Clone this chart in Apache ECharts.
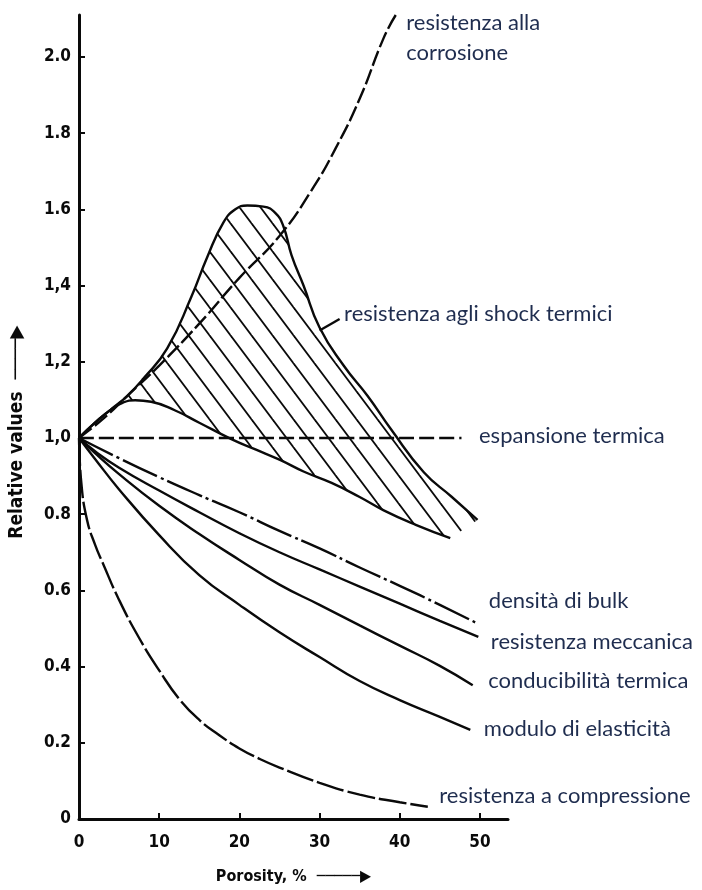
<!DOCTYPE html>
<html>
<head>
<meta charset="utf-8">
<title>Relative values vs porosity</title>
<script src="https://cdn.jsdelivr.net/npm/echarts@6.0.0/dist/echarts.min.js"></script>
<style>
    html, body { margin: 0; padding: 0; background: #ffffff; }
    #chart { width: 702px; height: 890px; }
</style>
</head>
<body>
<div id="chart"></div>
<script>
// values (porosity % -> relative value)
const xTicks = [0, 10, 20, 30, 40, 50]
const yTicks = [0, 0.2, 0.4, 0.6, 0.8, 1.0, 1.2, 1.4, 1.6, 1.8, 2.0]
const yTickLabels = ["0", "0.2", "0.4", "0.6", "0.8", "1,0", "1,2", "1,4", "1.6", "1.8", "2.0"]

const corrosionX = [0, 3, 6, 10, 15, 20, 25, 29, 32, 35, 38, 39.5]
const corrosionY = [1.0, 1.05, 1.11, 1.19, 1.30, 1.42, 1.53, 1.65, 1.76, 1.89, 2.05, 2.11]

const shockUpperX = [0, 2, 4, 6, 8, 11, 14, 16, 18, 19.5, 21, 23, 24.5, 25.5, 26.5, 28, 30, 33, 36, 39, 43, 46.5, 49.7]
const shockUpperY = [1.0, 1.04, 1.075, 1.11, 1.155, 1.235, 1.37, 1.475, 1.565, 1.60, 1.61, 1.607, 1.59, 1.555, 1.48, 1.40, 1.29, 1.19, 1.11, 1.02, 0.91, 0.845, 0.785]

const shockLowerX = [0, 2, 4, 5.5, 7, 9, 12, 15, 19, 22, 25, 28, 31.5, 35, 38, 42, 46.3]
const shockLowerY = [1.0, 1.04, 1.075, 1.093, 1.099, 1.095, 1.072, 1.04, 0.997, 0.97, 0.943, 0.912, 0.882, 0.845, 0.81, 0.772, 0.737]

const shockLeaderX = [30.0, 32.5]
const shockLeaderY = [1.282, 1.312]

const expansionX = [0, 47.7]
const expansionY = [1.0, 1.0]

const bulkX = [0, 5, 10, 15, 20, 25, 30, 35, 40, 45, 49.8]
const bulkY = [1.0, 0.947, 0.897, 0.85, 0.805, 0.756, 0.71, 0.66, 0.612, 0.562, 0.512]

const mechX = [0, 2, 5, 10, 15, 20, 25, 30, 35, 40, 45, 49.8]
const mechY = [1.0, 0.965, 0.922, 0.862, 0.805, 0.75, 0.70, 0.655, 0.61, 0.565, 0.52, 0.478]

const thermX = [0, 2, 5, 10, 15, 20, 25, 30, 35, 40, 45, 49.1]
const thermY = [1.0, 0.96, 0.905, 0.822, 0.748, 0.68, 0.615, 0.562, 0.508, 0.455, 0.402, 0.351]

const modulusX = [0, 2, 5, 10, 15, 20, 25, 30, 35, 40, 45, 48.8]
const modulusY = [1.0, 0.945, 0.865, 0.745, 0.64, 0.562, 0.49, 0.425, 0.362, 0.312, 0.268, 0.234]

const compressionX = [0, 0.3, 1, 2, 3, 5, 7.5, 10, 12.5, 15, 17.5, 20, 22.5, 25, 30, 35, 40, 43.5]
const compressionY = [1.0, 0.88, 0.785, 0.72, 0.67, 0.575, 0.475, 0.39, 0.315, 0.26, 0.22, 0.185, 0.158, 0.135, 0.095, 0.064, 0.044, 0.032]

const INK = "#0a0a0a"
const NOTE = "#1f2d4f"
const AXIS_FONT = "DejaVu Sans Condensed"

function pairs(xs, ys) {
    return xs.map((x, i) => [x, ys[i]])
}

// diagonal hatch tile for the thermal shock band
function hatchPattern() {
    const w = 21
    const h = 28
    const c = document.createElement("canvas")
    c.width = w
    c.height = h
    const ctx = c.getContext("2d")
    ctx.strokeStyle = INK
    ctx.lineWidth = 1.8
    for (const dx of [-w, 0, w]) {
        ctx.beginPath()
        ctx.moveTo(dx - w, -h)
        ctx.lineTo(dx + 2 * w, 2 * h)
        ctx.stroke()
    }
    return { image: c, repeat: "repeat" }
}

function endNote(xs, ys, text, offset) {
    return {
        symbol: "circle",
        symbolSize: 1,
        silent: true,
        itemStyle: { color: "rgba(0,0,0,0)" },
        label: {
            show: true,
            position: "right",
            distance: 0,
            offset: offset,
            formatter: text,
            color: NOTE,
            fontFamily: "Lato",
            fontSize: 22,
            lineHeight: 30,
        },
        data: [{ coord: [xs[xs.length - 1], ys[ys.length - 1]] }],
    }
}

function curve(name, xs, ys, type, note, offset) {
    const s = {
        name: name,
        type: "line",
        data: pairs(xs, ys),
        smooth: 0.5,
        symbol: "none",
        silent: true,
        z: 3,
        lineStyle: { color: INK, width: 2.4, type: type },
    }
    if (note) s.markPoint = endNote(xs, ys, note, offset)
    return s
}

const hatch = hatchPattern()

const myChart = echarts.init(document.getElementById("chart"), null, { renderer: "canvas" })
myChart.setOption({
    backgroundColor: "#ffffff",
    animation: false,
    grid: { left: 77, right: 194, top: 15, bottom: 63 },
    xAxis: {
        type: "value",
        min: 0,
        max: 53.5,
        interval: 10,
        name: "Porosity, %  \u2500\u2500\u2500\u2500\u2500\u25B6",
        nameLocation: "middle",
        nameGap: 50,
        nameTextStyle: { color: INK, fontFamily: AXIS_FONT, fontWeight: "bold", fontSize: 16 },
        axisLine: { lineStyle: { color: INK, width: 3 } },
        axisTick: { inside: true, length: 6, customValues: xTicks, lineStyle: { color: INK, width: 2 } },
        axisLabel: {
            customValues: xTicks,
            margin: 15,
            color: INK,
            fontFamily: AXIS_FONT,
            fontWeight: "bold",
            fontSize: 17,
        },
        splitLine: { show: false },
    },
    yAxis: {
        type: "value",
        min: 0,
        max: 2.11,
        interval: 0.2,
        name: "Relative values  \u2500\u2500\u2500\u2500\u25B6",
        nameLocation: "middle",
        nameRotate: 90,
        nameGap: 52,
        nameTextStyle: {
            color: INK,
            fontFamily: AXIS_FONT,
            fontWeight: "bold",
            fontSize: 19,
            padding: [0, 30, 0, 0],
        },
        axisLine: { lineStyle: { color: INK, width: 3 } },
        axisTick: { inside: true, length: 6, customValues: yTicks, lineStyle: { color: INK, width: 2 } },
        axisLabel: {
            customValues: yTicks,
            margin: 8,
            color: INK,
            fontFamily: AXIS_FONT,
            fontWeight: "bold",
            fontSize: 17,
            formatter: function (v) {
                const i = yTicks.findIndex((t) => Math.abs(t - v) < 1e-6)
                return i >= 0 ? yTickLabels[i] : ""
            },
        },
        splitLine: { show: false },
    },
    series: [
        {
            name: "shock band",
            type: "custom",
            silent: true,
            z: 1,
            data: [[0, 1]],
            renderItem: function (params, api) {
                const pts = []
                for (let i = 0; i < shockUpperX.length; i++) {
                    pts.push(api.coord([shockUpperX[i], shockUpperY[i]]))
                }
                for (let i = shockLowerX.length - 1; i >= 0; i--) {
                    pts.push(api.coord([shockLowerX[i], shockLowerY[i]]))
                }
                return { type: "polygon", shape: { points: pts }, style: { fill: hatch } }
            },
        },
        curve("resistenza agli shock termici", shockUpperX, shockUpperY, "solid"),
        curve("shock lower", shockLowerX, shockLowerY, "solid"),
        curve("resistenza agli shock termici (leader)", shockLeaderX, shockLeaderY, "solid",
            "resistenza agli shock termici", [4, -5]),
        curve("resistenza alla corrosione", corrosionX, corrosionY, [16, 4],
            "resistenza alla\ncorrosione", [10, 23]),
        curve("espansione termica", expansionX, expansionY, [15, 5],
            "espansione termica", [17, -2]),
        curve("densità di bulk", bulkX, bulkY, [38, 4, 3, 4],
            "densità di bulk", [10, -23]),
        curve("resistenza meccanica", mechX, mechY, "solid",
            "resistenza meccanica", [12, 5]),
        curve("conducibilità termica", thermX, thermY, "solid",
            "conducibilità termica", [15, -4]),
        curve("modulo di elasticità", modulusX, modulusY, "solid",
            "modulo di elasticità", [13, -1]),
        curve("resistenza a compressione", compressionX, compressionY, [28, 4],
            "resistenza a compressione", [11, -11]),
    ],
})
window.addEventListener("resize", function () {
    myChart.resize()
})
</script>
</body>
</html>
